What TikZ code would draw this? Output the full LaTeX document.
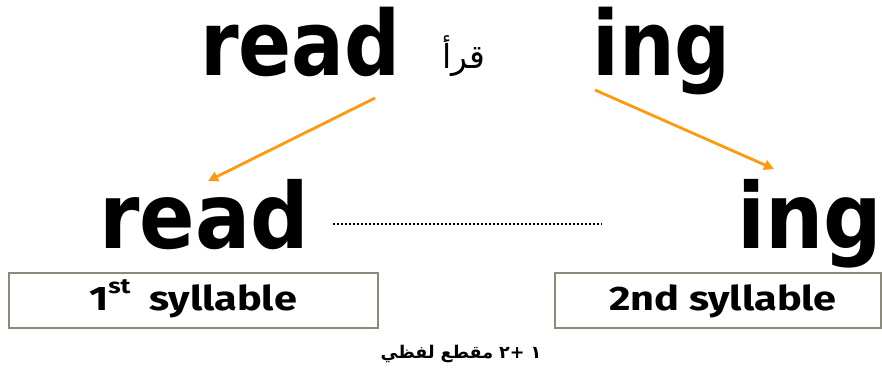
\documentclass[tikz,border=0pt]{standalone}
\usepackage{fontspec}
\usetikzlibrary{arrows.meta}
\TeXXeTstate=1
\newfontfamily\bigbold[FakeStretch=0.87]{DejaVu Sans Bold}
\newfontfamily\condbold{DejaVu Sans Condensed Bold}
\newfontfamily\boxfont[FakeStretch=1.22]{Fira Sans Bold}
\newfontfamily\arabicfont[Script=Arabic]{DejaVu Sans}
\definecolor{arroworange}{HTML}{FF9A10}
\definecolor{boxgray}{HTML}{8A8A7A}
\tikzset{
  bigword/.style={inner sep=0pt, anchor=base west, font=\bigbold\fontsize{90bp}{90bp}\selectfont},
  lowword/.style={inner sep=0pt, anchor=base west, font=\condbold\fontsize{91bp}{91bp}\selectfont},
  sylbox/.style={draw=boxgray, line width=1.3bp, minimum height=55bp, inner sep=0pt},
  syltext/.style={inner sep=0pt, anchor=base, font=\boxfont\fontsize{34bp}{34bp}\selectfont},
  orangearrow/.style={draw=arroworange, line width=2.8bp, -{Triangle[length=10bp,width=10bp]}},
  dotline/.style={draw=black, line width=1.8bp, dash pattern=on 1.8bp off 2.2bp},
}
\begin{document}
\begin{tikzpicture}[x=1bp,y=-1bp]
\useasboundingbox (0,0) rectangle (882,372);
% top words
\node[bigword] (read1) at (200,75) {read};
\node[inner sep=0pt, anchor=base, font=\arabicfont\fontsize{33bp}{33bp}\selectfont] (ar1) at (464,68) {\beginR قرأ\endR};
\node[bigword] (ing1) at (592,75) {ing};
% lower words
\node[lowword] (read2) at (99,248) {read};
\node[lowword] (ing2) at (737,248) {ing};
% arrows
\coordinate (a1s) at (375,98);
\coordinate (a1e) at (208,181);
\coordinate (a2s) at (595,90);
\coordinate (a2e) at (774,169);
\draw[orangearrow] (a1s) -- (a1e);
\draw[orangearrow] (a2s) -- (a2e);
% dotted connector
\coordinate (d1) at (333,224);
\coordinate (d2) at (602,224);
\draw[dotline] (d1) -- (d2);
% boxes
\node[sylbox, minimum width=369bp] (box1) at (193.5,300.5) {};
\node[sylbox, minimum width=326bp] (box2) at (718,300.5) {};
\node[syltext] (t1) at (193,310) {1\raisebox{0.5em}{\fontsize{21bp}{21bp}\selectfont st}\hspace{0.55em}syllable};
\node[syltext] (t2) at (723,310) {2nd syllable};
% bottom caption
\node[inner sep=0pt, font=\arabicfont\bfseries\fontsize{17.5bp}{17.5bp}\selectfont] (cap) at (461,354) {\beginR ١ +٢ مقطع لفظي\endR};
\end{tikzpicture}
\end{document}
